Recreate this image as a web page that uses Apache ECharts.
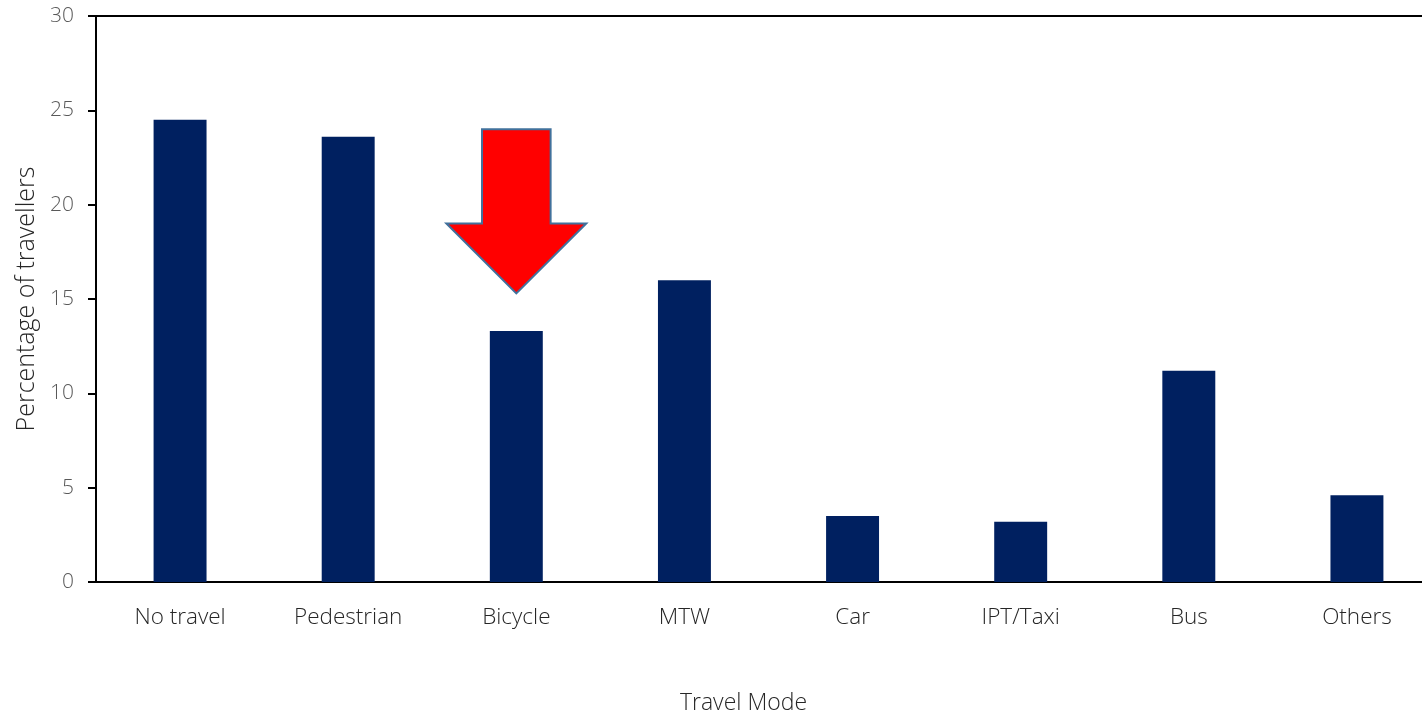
<!DOCTYPE html>
<html>
<head>
<meta charset="utf-8">
<script src="https://cdn.jsdelivr.net/npm/echarts@6/dist/echarts.min.js"></script>
<style>
  html, body { margin: 0; padding: 0; background: #fff; }
  #chart { width: 1422px; height: 715px; }
</style>
</head>
<body>
<div id="chart"></div>
<script>
// Share of travellers by main travel mode
const categories = ['No travel', 'Pedestrian', 'Bicycle', 'MTW', 'Car', 'IPT/Taxi', 'Bus', 'Others'];
const percentages = [24.5, 23.6, 13.3, 16.0, 3.5, 3.2, 11.2, 4.6];
const yTicks = { min: 0, max: 30, interval: 5 };

// Highlight arrow above the Bicycle bar, in value units
const arrowCategory = 'Bicycle';
const arrowLevels = { top: 24, headBase: 19, tip: 15.3 };
const arrowHalfWidths = { shaft: 0.204, head: 0.416 }; // fraction of a category band

const FONT = '"Open Sans", Lato, sans-serif';

const chart = echarts.init(document.getElementById('chart'), null, { renderer: 'canvas' });

const option = {
  backgroundColor: '#ffffff',
  animation: false,
  grid: { left: 96, top: 16, width: 1345, bottom: 133, outerBoundsMode: 'none' },
  xAxis: [
    {
      type: 'category',
      data: categories,
      position: 'bottom',
      axisLine: { show: true, lineStyle: { color: '#000000', width: 2 } },
      axisTick: { show: false },
      axisLabel: { color: '#262626', fontFamily: FONT, fontSize: 22.5, fontWeight: 300, margin: 24 },
      name: 'Travel Mode',
      nameLocation: 'middle',
      nameGap: 110,
      nameTextStyle: {
        color: '#262626', fontFamily: FONT, fontSize: 23, fontWeight: 300,
        padding: [0, 50, 0, 0]
      },
      splitLine: { show: false }
    },
    {
      type: 'category',
      data: categories,
      position: 'top',
      axisLine: { show: true, lineStyle: { color: '#000000', width: 2 } },
      axisTick: { show: false },
      axisLabel: { show: false },
      splitLine: { show: false }
    }
  ],
  yAxis: {
    type: 'value',
    min: yTicks.min,
    max: yTicks.max,
    interval: yTicks.interval,
    axisLine: { show: true, lineStyle: { color: '#000000', width: 2 } },
    axisTick: { show: true, inside: false, length: 8, lineStyle: { color: '#000000', width: 2 } },
    axisLabel: { color: '#595959', fontFamily: FONT, fontSize: 21, fontWeight: 300, margin: 22 },
    splitLine: { show: false },
    name: 'Percentage of travellers',
    nameLocation: 'middle',
    nameGap: 56,
    nameRotate: 90,
    nameTextStyle: { color: '#262626', fontFamily: FONT, fontSize: 25, fontWeight: 300 }
  },
  series: [
    {
      type: 'bar',
      data: percentages,
      barWidth: '31.5%',
      itemStyle: { color: '#002060' },
      xAxisIndex: 0,
      yAxisIndex: 0
    }
  ]
};

chart.setOption(option);

// Build the arrow from axis coordinates
function drawArrow() {
  const idx = categories.indexOf(arrowCategory);
  const c0 = chart.convertToPixel({ xAxisIndex: 0, yAxisIndex: 0 }, [idx, arrowLevels.top]);
  const c1 = chart.convertToPixel({ xAxisIndex: 0, yAxisIndex: 0 }, [idx + 1, arrowLevels.headBase]);
  const cTip = chart.convertToPixel({ xAxisIndex: 0, yAxisIndex: 0 }, [idx, arrowLevels.tip]);
  const band = c1[0] - c0[0];
  const cx = c0[0];
  const yTop = c0[1];
  const yBase = c1[1];
  const yTip = cTip[1];
  const sw = band * arrowHalfWidths.shaft;
  const hw = band * arrowHalfWidths.head;
  chart.setOption({
    graphic: [{
      type: 'polygon',
      z: 100,
      shape: {
        points: [
          [cx - sw, yTop], [cx + sw, yTop], [cx + sw, yBase], [cx + hw, yBase],
          [cx, yTip], [cx - hw, yBase], [cx - sw, yBase]
        ]
      },
      style: { fill: '#ff0000', stroke: '#41719c', lineWidth: 2, lineJoin: 'miter' }
    }]
  });
}
drawArrow();
</script>
</body>
</html>
